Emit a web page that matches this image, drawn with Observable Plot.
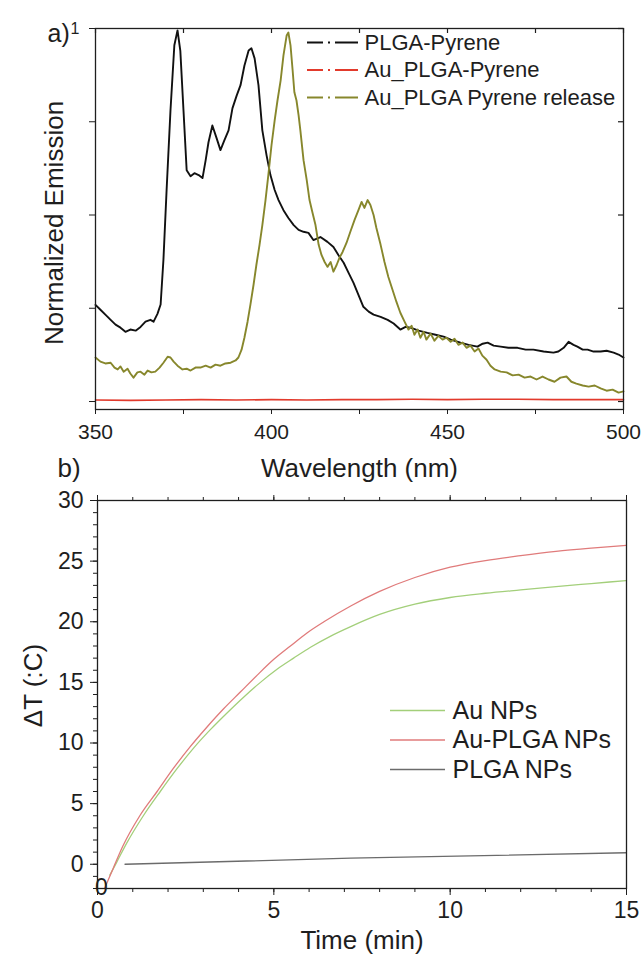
<!DOCTYPE html>
<html><head><meta charset="utf-8">
<script src="https://cdn.jsdelivr.net/npm/d3@7"></script>
<script src="https://cdn.jsdelivr.net/npm/@observablehq/plot@0.6"></script>
<style>
html,body{margin:0;padding:0;background:#fff;}
#wrap{position:relative;width:642px;height:956px;overflow:hidden;}
#a{position:absolute;left:0;top:0;}
#b{position:absolute;left:0;top:480px;}
</style></head>
<body><div id="wrap"><div id="a"></div><div id="b"></div></div>
<script>
// ---------- Panel a: emission spectra ----------
const seriesA = ["PLGA-Pyrene", "Au_PLGA-Pyrene", "Au_PLGA Pyrene release"];
const colorsA = ["#111111", "#e23a2c", "#87872c"];
const xTicksA = [350, 375, 400, 425, 450, 475, 500];
const xLabelsA = [350, 400, 450, 500];
const yTicksA = [0, 0.25, 0.5, 0.75, 1];

const plgaPyWl = [350,351.4,352.8,354.3,355.7,357.1,358.5,359.9,361.4,362.8,364.2,365.6,366.5,367.6,368.5,369.3,370.2,371.3,372.4,373.3,374.1,375,375.9,377,378.1,379.3,380.4,381.3,382.1,383.2,384.4,385.5,386.6,387.8,388.9,390.1,391.2,392.3,393.5,394.3,395.2,396.3,397.4,398.6,399.7,400.9,402,403.4,404.8,406.3,407.7,409.1,410.5,411.9,413.9,415.9,417.6,419,420.5,421.9,423.3,424.7,426.1,427.6,429,431,433,434.7,436.6,438.1,439.5,441.8,444.3,446.6,448.9,450.9,453.7,456,458.5,460,461.4,463.1,465.1,467.3,469.9,472.2,474.4,477.3,480.1,481.5,483,484.4,485.8,486.9,488.4,489.8,491.5,493.5,495.2,497.2,498.6,500];
const plgaPyVal = [0.259,0.246,0.233,0.219,0.206,0.198,0.187,0.193,0.19,0.2,0.214,0.219,0.214,0.235,0.26,0.38,0.567,0.78,0.955,0.995,0.94,0.78,0.62,0.604,0.612,0.607,0.599,0.647,0.695,0.74,0.706,0.674,0.7,0.727,0.786,0.82,0.848,0.9,0.941,0.947,0.92,0.848,0.727,0.66,0.607,0.567,0.54,0.513,0.492,0.473,0.46,0.455,0.452,0.433,0.441,0.428,0.414,0.393,0.372,0.345,0.318,0.286,0.254,0.241,0.233,0.227,0.219,0.209,0.193,0.2,0.198,0.19,0.184,0.179,0.174,0.166,0.158,0.152,0.147,0.155,0.158,0.15,0.147,0.144,0.144,0.139,0.139,0.134,0.131,0.134,0.144,0.16,0.152,0.147,0.139,0.139,0.134,0.134,0.136,0.131,0.126,0.118];

const auPlgaPyWl = [350,360,370,380,390,400,410,420,430,440,450,460,470,480,490,500];
const auPlgaPyVal = [0.004,0.003,0.004,0.005,0.004,0.005,0.004,0.005,0.005,0.006,0.005,0.006,0.006,0.005,0.005,0.005];

const releaseWl = [350,351.4,352.8,354.3,355.4,356.3,357.1,358,359.1,359.9,360.8,361.9,362.8,363.9,364.8,365.9,367,368.2,369.3,370.5,371.3,372.2,373.3,374.7,375.9,377,378.4,379.8,381.3,382.7,384.1,385.5,386.9,388.4,389.8,390.6,391.5,392.3,393.2,394,394.9,395.7,396.6,397.4,398.3,399.1,400,400.9,401.7,402.6,403.4,404.3,404.8,405.4,406,406.5,407.1,407.7,408.2,409.1,410,410.8,411.6,412.5,413.4,414.2,415.1,415.9,416.8,417.6,418.5,419.3,420.2,421.3,422.4,423.6,424.7,425.6,426.4,427.3,428.1,429,429.8,431,432.1,433.2,434.4,435.5,436.6,437.8,438.9,439.8,440.6,441.5,442.3,443.2,444,445.2,446.3,447.4,448.6,449.7,450.9,452,453.1,454.3,455.4,456.5,457.7,458.8,459.9,461.1,462.2,463.4,465.1,466.8,468.5,470.2,471.9,473.6,475.3,477,478.7,480.4,482.1,483.8,485.2,486.6,488.4,490.1,491.8,493.5,495.2,496.9,498.6,500];
const releaseVal = [0.118,0.107,0.102,0.104,0.091,0.086,0.094,0.08,0.088,0.075,0.064,0.078,0.08,0.072,0.083,0.078,0.08,0.091,0.104,0.12,0.118,0.107,0.096,0.086,0.088,0.083,0.091,0.091,0.096,0.091,0.099,0.096,0.102,0.104,0.11,0.118,0.139,0.171,0.214,0.259,0.313,0.366,0.42,0.473,0.54,0.607,0.687,0.754,0.807,0.861,0.928,0.981,0.989,0.955,0.888,0.829,0.807,0.767,0.727,0.647,0.594,0.54,0.508,0.473,0.42,0.393,0.374,0.361,0.374,0.348,0.366,0.385,0.401,0.425,0.455,0.487,0.513,0.535,0.519,0.54,0.527,0.5,0.465,0.42,0.374,0.334,0.299,0.267,0.238,0.214,0.193,0.203,0.179,0.193,0.171,0.187,0.166,0.182,0.163,0.176,0.166,0.171,0.16,0.168,0.152,0.158,0.144,0.15,0.134,0.142,0.123,0.112,0.096,0.086,0.08,0.078,0.07,0.072,0.064,0.067,0.059,0.067,0.059,0.053,0.064,0.067,0.053,0.048,0.043,0.04,0.043,0.035,0.029,0.032,0.024,0.027];

// ---------- Panel b: heating curves ----------
const seriesB = ["Au NPs", "Au-PLGA NPs", "PLGA NPs"];
const colorsB = ["#a3cf7a", "#e07b7b", "#6b6b6b"];
const xMajorB = [0, 5, 10, 15];
const xMinorB = [0,1,2,3,4,5,6,7,8,9,10,11,12,13,14,15];
const yMajorB = [0, 5, 10, 15, 20, 25, 30];
const yMinorB = [-2,-1,0,1,2,3,4,5,6,7,8,9,10,11,12,13,14,15,16,17,18,19,20,21,22,23,24,25,26,27,28,29,30];

const auNpTime = [0.35,0.55,0.84,1.3,1.78,2.26,2.73,3.2,3.68,4.15,4.62,5.1,5.56,6.04,6.6,7.18,8,9,10,11,12,13,14,15];
const auNpDT   = [-0.9,0.2,1.8,4.0,6.0,7.9,9.6,11.1,12.5,13.8,15.0,16.1,17.0,17.9,18.8,19.6,20.6,21.45,22.0,22.35,22.63,22.9,23.15,23.4];
const auPlgaTime = [0.2,0.45,0.72,1.2,1.69,2.15,2.63,3.1,3.57,4.05,4.53,5.0,5.47,5.95,6.42,7.18,8,9,10,11,12,13,14,15];
const auPlgaDT   = [-2.0,-0.3,1.5,4.0,6.0,7.9,9.7,11.3,12.8,14.2,15.6,16.9,18.0,19.1,20.0,21.3,22.5,23.65,24.5,25.05,25.45,25.8,26.07,26.3];
const plgaTime = [0.78, 7.18, 15];
const plgaDT   = [0.0, 0.5, 0.95];

const FONT = "'Liberation Sans', Arial, Helvetica, sans-serif";
const INK = "#1e1e1e";
const rows = (xs, ys, s) => xs.map((x, i) => ({x, y: ys[i], s}));

// geometry of panel a
const AW = 642, AH = 480, AL = 95, AR = 19, AT = 28, AB = 71;
const AFW = AW - AL - AR, AFH = AH - AT - AB;

const plotA = Plot.plot({
  width: AW, height: AH,
  marginTop: AT, marginLeft: AL, marginRight: AR, marginBottom: AB,
  style: {fontFamily: FONT, background: "transparent", color: INK, overflow: "visible"},
  x: {domain: [350, 500]},
  y: {domain: [-0.0214, 1]},
  color: {domain: seriesA, range: colorsA},
  marks: [
    Plot.line(rows(auPlgaPyWl, auPlgaPyVal, seriesA[1]), {x: "x", y: "y", stroke: "s", strokeWidth: 1.6}),
    Plot.line(rows(plgaPyWl, plgaPyVal, seriesA[0]), {x: "x", y: "y", stroke: "s", strokeWidth: 1.9}),
    Plot.line(rows(releaseWl, releaseVal, seriesA[2]), {x: "x", y: "y", stroke: "s", strokeWidth: 1.9}),
    Plot.frame({stroke: INK, strokeWidth: 1.3}),
    Plot.axisX({anchor: "bottom", ticks: xTicksA, tickSize: 5, tickPadding: 10, fontSize: 21, label: null,
      tickFormat: d => xLabelsA.includes(d) ? String(d) : ""}),
    Plot.ruleX(xTicksA, {x: d => d, insetBottom: AFH - 5, stroke: INK, strokeWidth: 1.2}),
    Plot.axisY({anchor: "left", ticks: yTicksA, tickSize: 6, tickPadding: 10, fontSize: 16, label: null,
      tickFormat: d => d === 1 ? "1" : ""}),
    Plot.ruleY(yTicksA, {y: d => d, insetLeft: AFW - 5, stroke: INK, strokeWidth: 1.2}),
    // legend
    ...seriesA.map((s, i) => Plot.ruleY([1], {dy: 14 + i * 27.5, insetLeft: 212, insetRight: 265,
      stroke: colorsA[i], strokeWidth: 2, strokeDasharray: "16,5,2,5,40"})),
    ...seriesA.map((s, i) => Plot.text([s], {frameAnchor: "top-left", dx: 269, dy: 14 + i * 27.5,
      text: d => d, textAnchor: "start", lineAnchor: "middle", fontSize: 22, fill: INK})),
    // titles
    Plot.text(["a)"], {frameAnchor: "top-left", dx: -48, dy: 5, text: d => d, textAnchor: "start", lineAnchor: "middle", fontSize: 25, fill: INK}),
    Plot.text(["b)"], {frameAnchor: "bottom-left", dx: -38, dy: 59, text: d => d, textAnchor: "start", lineAnchor: "middle", fontSize: 26, fill: INK}),
    Plot.text(["Wavelength (nm)"], {frameAnchor: "bottom", dy: 59, text: d => d, textAnchor: "middle", lineAnchor: "middle", fontSize: 26, fill: INK}),
    Plot.text(["Normalized Emission"], {frameAnchor: "left", dx: -41, dy: 4, rotate: -90, text: d => d, textAnchor: "middle", lineAnchor: "middle", fontSize: 26, fill: INK})
  ]
});
document.getElementById("a").append(plotA);

// geometry of panel b
const BW = 642, BH = 476, BL = 97, BR = 16, BT = 20, BB = 68;

const plotB = Plot.plot({
  width: BW, height: BH,
  marginTop: BT, marginLeft: BL, marginRight: BR, marginBottom: BB,
  style: {fontFamily: FONT, background: "transparent", color: INK, overflow: "visible"},
  x: {domain: [0, 15]},
  y: {domain: [-2, 30]},
  color: {domain: seriesB, range: colorsB},
  marks: [
    Plot.line(rows(plgaTime, plgaDT, seriesB[2]), {x: "x", y: "y", stroke: "s", strokeWidth: 1.3, clip: true}),
    Plot.line(rows(auNpTime, auNpDT, seriesB[0]), {x: "x", y: "y", stroke: "s", strokeWidth: 1.3, curve: "monotone-x", clip: true}),
    Plot.line(rows(auPlgaTime, auPlgaDT, seriesB[1]), {x: "x", y: "y", stroke: "s", strokeWidth: 1.3, curve: "monotone-x", clip: true}),
    Plot.frame({stroke: INK, strokeWidth: 1.3}),
    Plot.axisY({anchor: "left", ticks: yMajorB, tickSize: 7, tickPadding: 7, fontSize: 23, label: null}),
    Plot.axisY({anchor: "left", ticks: yMinorB, tickSize: 4, tickFormat: () => "", label: null}),
    Plot.axisX({anchor: "bottom", ticks: xMajorB, tickSize: 7, tickPadding: 6, fontSize: 23, label: null}),
    Plot.axisX({anchor: "bottom", ticks: xMinorB, tickSize: 4, tickFormat: () => "", label: null}),
    Plot.axisX({anchor: "top", ticks: xMajorB, tickSize: 6, tickFormat: () => "", label: null}),
    Plot.axisX({anchor: "top", ticks: xMinorB, tickSize: 4, tickFormat: () => "", label: null}),
    Plot.text(["0"], {frameAnchor: "bottom-left", dx: 4, dy: -1, text: d => d, textAnchor: "middle", lineAnchor: "middle", fontSize: 23, fill: INK}),
    // legend
    ...seriesB.map((s, i) => Plot.ruleY([30], {dy: 210 + i * 29.5, insetLeft: 293, insetRight: 181, stroke: colorsB[i], strokeWidth: 1.3})),
    ...seriesB.map((s, i) => Plot.text([s], {frameAnchor: "top-left", dx: 355, dy: 210 + i * 29.5,
      text: d => d, textAnchor: "start", lineAnchor: "middle", fontSize: 25, fill: INK})),
    Plot.text(["Time (min)"], {frameAnchor: "bottom", dy: 52, text: d => d, textAnchor: "middle", lineAnchor: "middle", fontSize: 26, fill: INK}),
    Plot.text(["ΔT (:C)"], {frameAnchor: "left", dx: -64, dy: -9, rotate: -90, text: d => d, textAnchor: "middle", lineAnchor: "middle", fontSize: 26, fill: INK})
  ]
});
document.getElementById("b").append(plotB);
</script>
</body></html>
